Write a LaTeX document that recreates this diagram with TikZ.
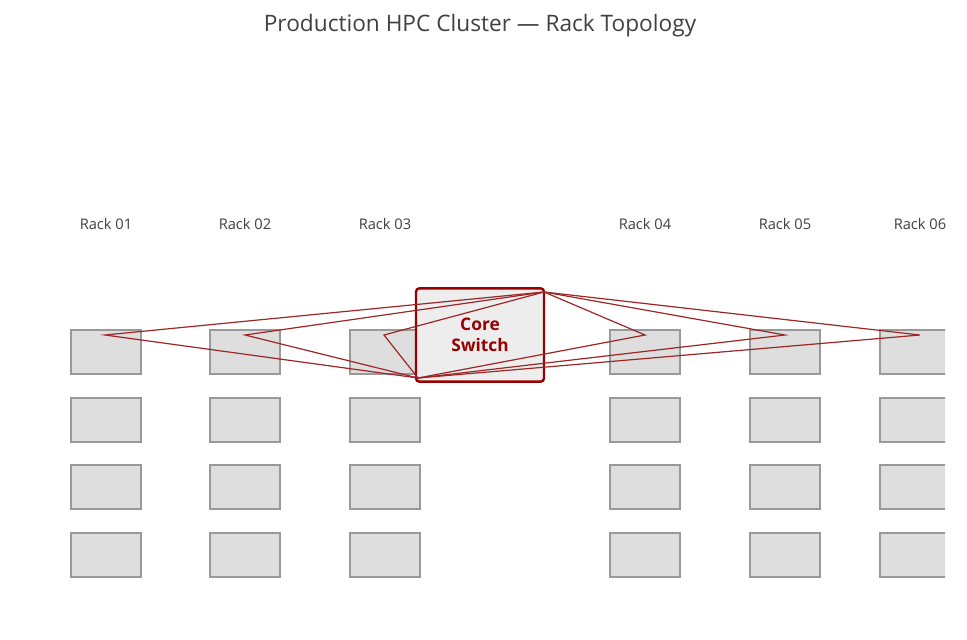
\documentclass[tikz,border=0pt]{standalone}
\usepackage{fontspec}
\setmainfont{Open Sans}
\begin{document}
\begin{tikzpicture}[x=0.75pt,y=-0.75pt,
  srv/.style={draw=black!40,fill=black!13,line width=0.8pt,minimum width=52.5pt,minimum height=33pt,inner sep=0pt},
  lbl/.style={text=black!75,font=\fontsize{11}{13}\selectfont},
  link/.style={draw=red!55!black!85,line width=0.9pt}]
\useasboundingbox (0,0) rectangle (967,639);
\node[text=black!75,font=\fontsize{17}{20}\selectfont] (title) at (480,26) {Production HPC Cluster — Rack Topology};
\foreach \x/\n in {106/01,245/02,385/03,645/04,785/05,920/06}{
  \node[lbl] (L\n) at (\x,224) {Rack \n};
}
\begin{scope}
\clip (0,0) rectangle (945,639);
\foreach \x/\n in {106/01,245/02,385/03,645/04,785/05,915/06}{
  \foreach \y/\r in {352/1,420/2,487/3,555/4}{
    \node[srv] (S\n\r) at (\x,\y) {};
  }
}
\end{scope}
\node[draw=red!60!black,line width=1.8pt,fill=black!7,rounded corners=2.5pt,minimum width=96pt,minimum height=70pt,
  text=red!60!black,font=\bfseries\fontsize{13}{16}\selectfont,align=center] (core) at (480,335) {Core\\Switch};
\coordinate (cA) at (544,292);
\coordinate (cB) at (418,378);
\foreach \x/\n in {105/01,245/02,384/03,645/04,785/05,920/06}{
  \coordinate (P\n) at (\x,335);
  \draw[link] (cA) -- (P\n) -- (cB);
}
\end{tikzpicture}
\end{document}
